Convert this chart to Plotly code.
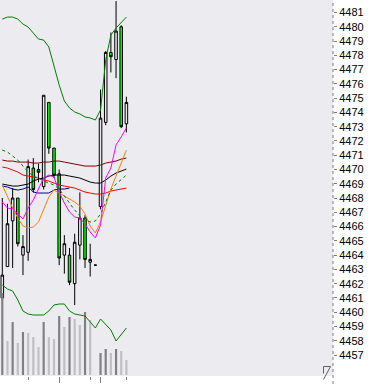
import plotly.graph_objects as go

# ---------------- data ----------------
bars = list(range(25))
opens  = [4461.0, 4463.2, 4466.4, 4468.0, 4464.0, 4464.2, 4470.1, 4470.0, 4468.8, 4474.7,
          4471.5, 4469.7, 4464.0, 4464.0, 4462.0, 4464.7, 4466.6, 4463.5, 4463.3, 4467.4,
          4473.3, 4478.2, 4477.7, 4480.0, 4473.2]
highs  = [4468.0, 4467.6, 4468.7, 4468.0, 4465.4, 4470.7, 4470.8, 4470.4, 4475.2, 4474.7,
          4471.5, 4470.0, 4465.4, 4464.5, 4465.5, 4468.4, 4466.8, 4464.8, 4463.3, 4475.6,
          4478.3, 4479.6, 4481.8, 4480.1, 4475.1]
lows   = [4460.8, 4463.2, 4463.1, 4464.6, 4462.6, 4463.6, 4468.4, 4469.1, 4468.6, 4471.1,
          4469.4, 4463.3, 4462.7, 4461.9, 4460.5, 4463.7, 4463.1, 4462.5, 4463.3, 4467.2,
          4473.1, 4476.8, 4476.4, 4472.9, 4472.6]
closes = [4462.6, 4466.2, 4468.0, 4464.8, 4464.6, 4470.2, 4468.6, 4469.8, 4475.2, 4471.5,
          4469.6, 4463.8, 4464.8, 4462.1, 4464.9, 4466.6, 4463.7, 4463.7, 4463.3, 4473.6,
          4478.2, 4477.9, 4479.7, 4473.0, 4474.7]
volume = [820, 340, 530, 320, 430, 420, 380, 280, 530, 380, 360, 590, 480, 580, 560, 500,
          630, 550, 0, 220, 260, 220, 260, 240, 150]
volume_ma = [900, 860, 840, 750, 640, 610, 600, 600, 600, 640, 700, 710, 710, 640, 610, 600,
             590, 530, 470, 560, 510, 450, 340, 410, 470]

band_upper = [4480.54, 4480.68, 4480.68, 4480.54, 4480.19, 4479.98, 4479.56, 4479.14, 4479.07,
              4478.58, 4477.25, 4475.92, 4474.80, 4474.31, 4474.03, 4473.89, 4473.68, 4473.61,
              4473.47, 4474.17, 4477.67, 4479.42, 4479.91, 4480.33, 4480.68]
band_mid = [4471.36, 4471.22, 4470.94, 4470.66, 4470.24, 4469.82, 4469.54, 4469.40, 4469.19,
            4469.05, 4468.91, 4468.63, 4468.14, 4467.58, 4467.16, 4466.74, 4466.46, 4466.32,
            4466.39, 4466.88, 4467.72, 4468.56, 4468.98, 4469.33, 4469.61]
ma_maroon = [4470.66, 4470.59, 4470.59, 4470.52, 4470.52, 4470.52, 4470.45, 4470.45, 4470.52,
             4470.52, 4470.59, 4470.59, 4470.52, 4470.45, 4470.38, 4470.31, 4470.24, 4470.24,
             4470.24, 4470.31, 4470.45, 4470.52, 4470.59, 4470.73, 4470.80]
ma_red = [4470.17, 4470.10, 4469.96, 4469.82, 4469.61, 4469.54, 4469.47, 4469.40, 4469.26,
          4469.19, 4469.05, 4468.91, 4468.84, 4468.77, 4468.70, 4468.56, 4468.42, 4468.35,
          4468.28, 4468.28, 4468.35, 4468.49, 4468.56, 4468.63, 4468.70]
ma_black = [4468.98, 4468.91, 4468.84, 4468.84, 4468.91, 4468.98, 4469.19, 4469.33, 4469.40,
            4469.54, 4469.61, 4469.61, 4469.61, 4469.54, 4469.47, 4469.40, 4469.26, 4469.12,
            4469.05, 4469.05, 4469.26, 4469.54, 4469.75, 4469.89, 4470.03]
ma_navy = [4468.84, 4468.77, 4468.63, 4468.56, 4468.63, 4468.77, 4468.42, 4468.35, 4468.35,
           4468.35, 4468.56, 4468.63, 4468.63, 4468.70, None, None, None, None, None, None,
           None, None, None, None, None]
ma_orange = [4468.91, 4468.07, 4467.30, 4466.60, 4466.04, 4465.90, 4465.97, 4466.32, 4467.16,
             4468.07, 4468.56, 4468.35, 4468.14, 4467.93, 4467.72, 4467.44, 4466.88, 4466.04,
             4465.55, 4466.32, 4467.51, 4468.63, 4469.54, 4470.45, 4471.36]
ma_magenta = [4467.72, 4467.30, 4467.23, 4466.88, 4466.53, 4467.30, 4467.86, 4468.63, 4469.40,
              4469.61, 4469.47, 4468.42, 4467.65, 4467.02, 4466.67, 4466.60, 4466.18, 4465.62,
              4465.20, 4466.11, 4469.40, 4470.10, 4471.72, 4472.28, 4472.91]

price_ticks = list(range(4457, 4482))
major_marks = [11, 19]
minor_marks = [5, 17, 24]

# ---------------- figure ----------------
BG = "#EBEBF0"
fig = go.Figure()

vol_colors = ["#808080" if (i == 0 or volume[i] > volume[i - 1]) else "#C0C0C0" for i in bars]
fig.add_trace(go.Bar(x=bars, y=volume, marker=dict(color=vol_colors, line=dict(width=0)),
                     width=0.42, yaxis="y2", showlegend=False))
fig.add_trace(go.Scatter(x=bars, y=volume_ma, mode="lines", yaxis="y2",
                         line=dict(color="#008000", width=1), showlegend=False))

def add_line(vals, color, dash=None):
    fig.add_trace(go.Scatter(x=bars, y=vals, mode="lines", showlegend=False,
                             line=dict(color=color, width=1, dash=dash)))

add_line(ma_navy, "#000080")
add_line(ma_maroon, "#800000")
add_line(ma_red, "#FF0000")
add_line(ma_black, "#000000")
add_line(ma_orange, "#FF8000")
add_line(ma_magenta, "#FF00FF")
add_line(band_mid, "#008000", "3px,3px")
add_line(band_upper, "#008000")

fig.add_trace(go.Candlestick(
    x=bars, open=opens, high=highs, low=lows, close=closes,
    increasing=dict(line=dict(color="#000000", width=1), fillcolor=BG),
    decreasing=dict(line=dict(color="#000000", width=1), fillcolor="#00FF00"),
    whiskerwidth=0, showlegend=False, hoverinfo="skip"))

# x range so that one bar = ~5.17 px, first bar at ~2.3 px
x_lo = -0.445
x_hi = 63.96

fig.update_layout(
    width=376, height=384,
    margin=dict(l=0, r=43, t=0, b=8),
    paper_bgcolor="white", plot_bgcolor=BG,
    showlegend=False,
    xaxis=dict(range=[x_lo, x_hi], rangeslider=dict(visible=False), showgrid=False,
               zeroline=False, showline=False, showticklabels=False,
               tickmode="array", tickvals=major_marks, ticks="outside", ticklen=6,
               tickcolor="#808080", tickwidth=1,
               minor=dict(tickmode="array", tickvals=minor_marks, ticks="outside",
                          ticklen=3, tickcolor="#808080", tickwidth=1, showgrid=False)),
    yaxis=dict(side="right", range=[4455.53, 4481.876], tickmode="array",
               tickvals=price_ticks, ticktext=[str(v) for v in price_ticks],
               ticks="outside", ticklen=3, tickcolor="#808080", tickwidth=1,
               showgrid=False, zeroline=False, showline=False,
               tickfont=dict(family="Liberation Sans", size=11, color="#000000")),
    yaxis2=dict(overlaying="y", range=[-10, 3750], visible=False, showgrid=False),
    bargap=0.5,
)

# dotted price-axis line
fig.add_shape(type="line", xref="paper", yref="paper", x0=1, x1=1, y0=-8 / 376, y1=1,
              line=dict(color="#808080", width=1, dash="dot"))

# small size-grip glyph in the bottom-right corner of the plot
def px(xp, yp):
    return xp / 333.0, 1 - yp / 376.0
c = px(323.5, 379.5); d = px(330.5, 366.5)
fig.add_shape(type="path", xref="paper", yref="paper",
              path=f"M {c[0]},{c[1]} L {d[0]},{d[1]}",
              line=dict(color="#606060", width=1))
e = px(323.5, 366.5)
fig.add_shape(type="path", xref="paper", yref="paper",
              path=f"M {e[0]},{px(323.5,373.5)[1]} L {e[0]},{e[1]} L {px(330.5,366.5)[0]},{e[1]}",
              line=dict(color="#606060", width=1))

fig.write_html("out.html", config={"displayModeBar": False},
               post_script="document.body.style.margin='0';document.body.style.overflow='hidden';")
